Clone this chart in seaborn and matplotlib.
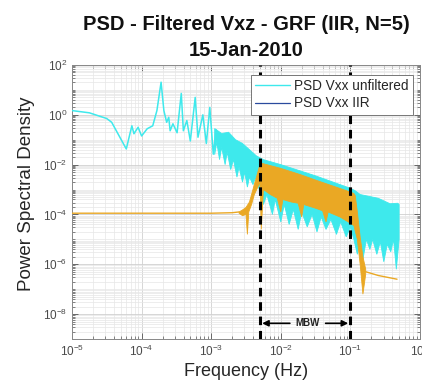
import numpy as np
import pandas as pd
import seaborn as sns
import matplotlib.pyplot as plt
from matplotlib.lines import Line2D
from matplotlib.ticker import LogLocator, NullFormatter

# Значения (log10 частоты и log10 PSD)
# Голубая линия (нефильтрованный сигнал), низкие частоты
cyan_line_logf = [-5.0, -4.75, -4.5, -4.43, -4.22, -4.14, -4.11, -4.05, -4.0, -3.92,
                  -3.84, -3.78, -3.72, -3.68, -3.64, -3.61, -3.59, -3.55, -3.49, -3.43,
                  -3.40, -3.35, -3.30, -3.23, -3.19, -3.12, -3.07, -3.02, -2.97, -2.93,
                  -2.90]
cyan_line_logp = [0.17, 0.08, -0.15, -0.3, -1.37, -0.44, -0.76, -0.5, -0.85, -0.56,
                  -0.44, 0.17, 1.31, 0.17, -0.3, -0.1, -0.64, -0.36, -0.72, 0.86,
                  -0.64, -0.23, -1.05, 0.7, -0.9, 0.0, -1.15, 0.3, -1.58, -0.6,
                  -1.3]

# Голубая плотная полоса: верхняя и нижняя огибающие
cyan_up_logf = [-2.95, -2.85, -2.75, -2.65, -2.55, -2.45, -2.35, -2.25, -2.0, -1.5,
                -1.0, -0.93, -0.86, -0.6, -0.43, -0.32, -0.30]
cyan_up_logp = [-0.55, -0.75, -0.7, -1.0, -1.15, -1.4, -1.65, -1.8, -2.0, -2.45,
                -2.95, -3.05, -3.2, -3.35, -3.57, -3.55, -3.6]
cyan_lo_logf = [-2.95, -2.92, -2.88, -2.85, -2.8, -2.77, -2.72, -2.68, -2.63, -2.6,
                -2.55, -2.52, -2.48, -2.45, -2.4, -2.36, -2.32, -2.25, -2.2, -2.12,
                -2.08, -2.0, -1.95, -1.88, -1.82, -1.75, -1.7, -1.62, -1.55, -1.48,
                -1.42, -1.35, -1.28, -1.2, -1.14, -1.06, -1.0, -0.95, -0.9, -0.86,
                -0.82, -0.77, -0.72, -0.68, -0.62, -0.57, -0.52, -0.47, -0.42, -0.38,
                -0.34, -0.31, -0.30]
cyan_lo_logp = [-1.6, -1.1, -1.8, -1.3, -2.0, -1.5, -2.2, -1.8, -2.5, -2.1,
                -2.7, -2.3, -2.9, -2.5, -2.8, -2.5, -2.9, -3.6, -3.2, -4.0,
                -3.4, -4.3, -3.6, -4.4, -3.8, -4.6, -3.9, -4.5, -4.0, -4.7,
                -4.1, -4.6, -4.2, -4.8, -4.3, -4.9, -4.5, -5.0, -5.6, -4.9,
                -5.8, -5.0, -5.4, -5.0, -5.6, -5.1, -5.9, -5.2, -5.5, -5.0,
                -6.2, -5.3, -5.0]

# Оранжевый (IIR): плоский участок, полоса и хвост
iir_flat_logf = [-5.0, -4.0, -3.0, -2.7, -2.6]
iir_flat_logp = [-3.95, -3.95, -3.95, -3.93, -3.9]
iir_up_logf = [-2.6, -2.55, -2.5, -2.45, -2.4, -2.35, -2.3, -2.27, -2.0, -1.72,
               -1.5, -1.0, -0.95, -0.93, -0.9, -0.86, -0.82, -0.78]
iir_up_logp = [-3.9, -3.82, -3.72, -3.5, -3.0, -2.5, -2.0, -1.95, -2.15, -2.4,
               -2.62, -3.1, -3.16, -3.25, -3.9, -4.9, -5.7, -6.2]
iir_lo_logf = [-2.6, -2.55, -2.5, -2.48, -2.46, -2.42, -2.38, -2.33, -2.3, -2.28,
               -2.25, -2.15, -2.05, -2.0, -1.97, -1.85, -1.75, -1.7, -1.67, -1.5,
               -1.4, -1.35, -1.32, -1.15, -1.0, -0.95, -0.9, -0.86, -0.82, -0.78]
iir_lo_logp = [-3.95, -4.05, -4.0, -4.8, -3.9, -3.6, -3.2, -2.9, -2.7, -4.6,
               -3.0, -3.2, -3.35, -3.9, -3.4, -3.5, -3.55, -4.1, -3.6, -3.75,
               -3.85, -4.3, -3.9, -4.1, -4.35, -4.45, -5.0, -6.0, -7.2, -6.4]
iir_tail_logf = [-0.78, -0.6, -0.33]
iir_tail_logp = [-6.3, -6.45, -6.6]

mbw_lo, mbw_hi = 0.005, 0.1
x_ticks = [1e-5, 1e-4, 1e-3, 1e-2, 1e-1, 1e0]
y_ticks = [1e-8, 1e-6, 1e-4, 1e-2, 1e0, 1e2]

CYAN = '#3ee9ec'
ORANGE = '#eaa824'
BLUE = '#2a4a9e'


def to_df(logf, logp):
    return pd.DataFrame({'f': 10.0 ** np.array(logf), 'p': 10.0 ** np.array(logp)})


def band(ax, up_f, up_p, lo_f, lo_p, color, z):
    xs = np.concatenate([10.0 ** np.array(up_f), 10.0 ** np.array(lo_f)[::-1]])
    ys = np.concatenate([10.0 ** np.array(up_p), 10.0 ** np.array(lo_p)[::-1]])
    ax.fill(xs, ys, color=color, lw=0.6, edgecolor=color, zorder=z)


sns.set_style('ticks')
plt.rcParams['font.family'] = ['Liberation Sans', 'DejaVu Sans']
plt.rcParams['mathtext.default'] = 'regular'

fig = plt.figure(figsize=(4.22, 3.83), dpi=100)
ax = fig.add_axes([72 / 422, 1 - 339 / 383, 348 / 422, 274 / 383])
ax.set_xscale('log')
ax.set_yscale('log')

# голубая кривая
sns.lineplot(data=to_df(cyan_line_logf, cyan_line_logp), x='f', y='p', ax=ax,
             color=CYAN, lw=1.1, estimator=None, sort=False, zorder=3)
band(ax, cyan_up_logf, cyan_up_logp, cyan_lo_logf, cyan_lo_logp, CYAN, 3)

# оранжевая кривая (IIR)
sns.lineplot(data=to_df(iir_flat_logf, iir_flat_logp), x='f', y='p', ax=ax,
             color=ORANGE, lw=1.0, estimator=None, sort=False, zorder=4)
band(ax, iir_up_logf, iir_up_logp, iir_lo_logf, iir_lo_logp, ORANGE, 4)
sns.lineplot(data=to_df(iir_tail_logf, iir_tail_logp), x='f', y='p', ax=ax,
             color=ORANGE, lw=1.0, estimator=None, sort=False, zorder=4)

# границы MBW
for fx in (mbw_lo, mbw_hi):
    ax.axvline(fx, color='black', lw=2.2, ls=(0, (2.8, 1.9)), zorder=5)

y_arrow = 10 ** -8.37
ax.annotate('', xy=(mbw_lo * 1.08, y_arrow), xytext=(0.0135, y_arrow),
            arrowprops=dict(arrowstyle='-|>', color='black', lw=1.2,
                            shrinkA=0, shrinkB=0, mutation_scale=9), zorder=6)
ax.annotate('', xy=(mbw_hi * 0.93, y_arrow), xytext=(0.044, y_arrow),
            arrowprops=dict(arrowstyle='-|>', color='black', lw=1.2,
                            shrinkA=0, shrinkB=0, mutation_scale=9), zorder=6)
ax.text(0.0243, y_arrow, 'MBW', ha='center', va='center', fontsize=7,
        fontweight='bold', color='#222222', zorder=6)

ax.set_xlim(1e-5, 1e0)
ax.set_ylim(1e-9, 1e2)
ax.set_xticks(x_ticks)
ax.set_yticks(y_ticks)
ax.xaxis.set_minor_locator(LogLocator(base=10, subs=np.arange(2, 10), numticks=100))
ax.yaxis.set_minor_locator(LogLocator(base=10, subs=np.arange(1, 10), numticks=100))
ax.xaxis.set_minor_formatter(NullFormatter())
ax.yaxis.set_minor_formatter(NullFormatter())
ax.tick_params(which='both', direction='in', top=True, right=True,
               colors='#555555', labelcolor='#4a4a4a', labelsize=8.5)
ax.tick_params(which='major', length=4, width=0.6)
ax.tick_params(which='minor', length=2, width=0.5)
ax.grid(True, which='major', color='#d0d0d0', lw=0.6)
ax.grid(True, which='minor', color='#e6e6e6', lw=0.5)
ax.set_axisbelow(True)
for s in ax.spines.values():
    s.set_color('#888888')
    s.set_linewidth(0.7)

ax.set_xlabel('Frequency (Hz)', fontsize=13, color='#262626', labelpad=3)
ax.set_ylabel('Power Spectral Density', fontsize=13.5, color='#262626')
ax.yaxis.set_label_coords(-0.107, 0.53)

fig.text(246 / 422, 1 - 24 / 383, 'PSD - Filtered Vxz - GRF (IIR, N=5)',
         ha='center', va='center', fontsize=14.5, fontweight='bold', color='#111111')
fig.text(246 / 422, 1 - 50 / 383, '15-Jan-2010',
         ha='center', va='center', fontsize=14.5, fontweight='bold', color='#111111')

handles = [Line2D([], [], color=CYAN, lw=1.0), Line2D([], [], color=BLUE, lw=0.9)]
leg = ax.legend(handles, ['PSD Vxx unfiltered', 'PSD Vxx IIR'],
                loc='upper right', bbox_to_anchor=(413 / 422, 1 - 75 / 383),
                bbox_transform=fig.transFigure, borderaxespad=0, fontsize=9.8,
                handlelength=2.6, handletextpad=0.3, labelspacing=0.25,
                borderpad=0.3, fancybox=False, framealpha=1, edgecolor='#777777')
leg.get_frame().set_linewidth(0.7)
leg.set_zorder(10)

fig.savefig('out.png', dpi=100)
